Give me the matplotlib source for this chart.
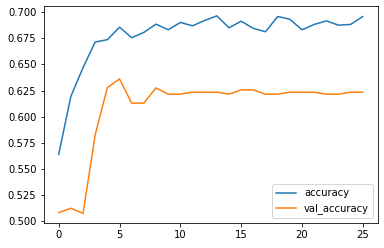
import matplotlib
matplotlib.use("Agg")
import matplotlib.pyplot as plt

epochs = list(range(26))
accuracy = [0.564, 0.6195, 0.647, 0.6715, 0.6737, 0.6857, 0.6756, 0.6807, 0.6886, 0.6832,
            0.6902, 0.687, 0.6921, 0.6965, 0.6851, 0.6914, 0.6845, 0.6813, 0.6959, 0.6933,
            0.6832, 0.6883, 0.6917, 0.6876, 0.6883, 0.6959]
val_accuracy = [0.5083, 0.5124, 0.5075, 0.5827, 0.6279, 0.6362, 0.613, 0.613, 0.6276, 0.6216,
                0.6216, 0.6235, 0.6235, 0.6235, 0.6216, 0.6257, 0.6257, 0.6216, 0.6216, 0.6235,
                0.6235, 0.6235, 0.6216, 0.6216, 0.6235, 0.6235]

fig = plt.figure(figsize=(384/72, 248/72), dpi=72)
ax = fig.add_axes([43.5/384, (248-223.3)/248, (378-43.5)/384, (223.3-6)/248])
ax.plot(epochs, accuracy, label="accuracy")
ax.plot(epochs, val_accuracy, label="val_accuracy")
ax.legend(loc="lower right")
fig.savefig("out.png", dpi=72)
